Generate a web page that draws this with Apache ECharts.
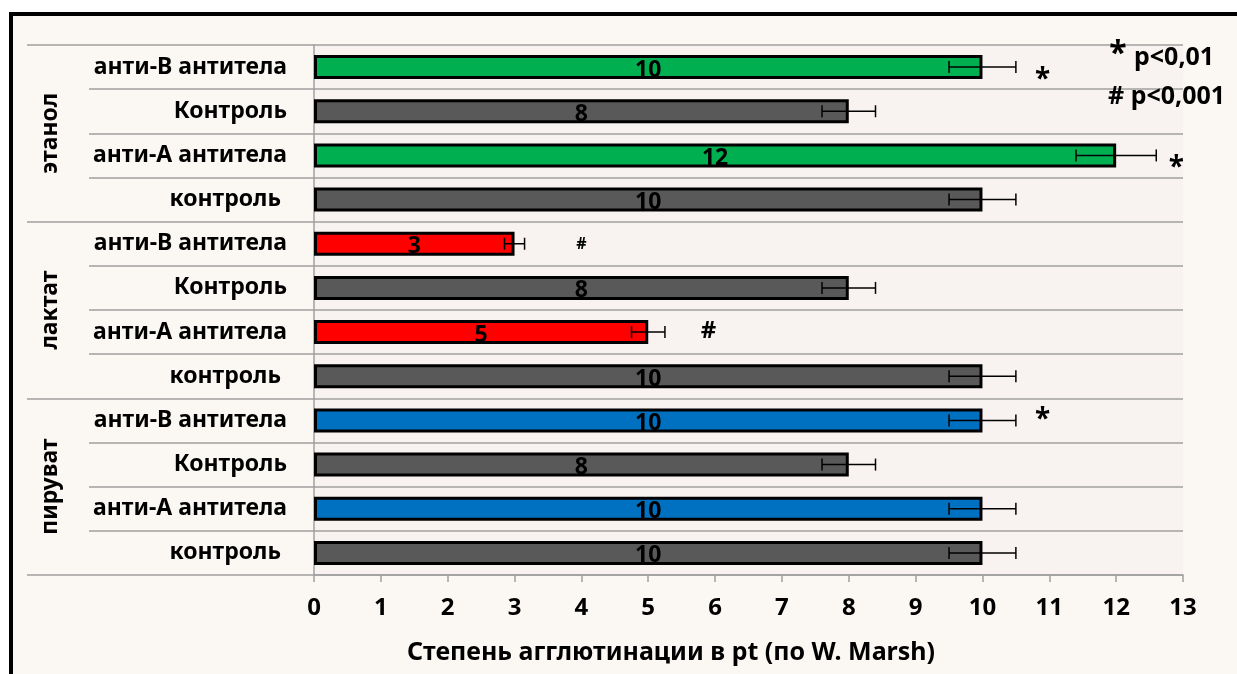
<!DOCTYPE html>
<html>
<head>
<meta charset="utf-8">
<script src="https://cdn.jsdelivr.net/npm/echarts@6/dist/echarts.min.js"></script>
<style>html,body{margin:0;padding:0;background:#fff;}#c{width:1237px;height:674px;}</style>
</head>
<body>
<div id="c"></div>
<script>
// ---- data ----
const categories = ['анти-В антитела','Контроль','анти-А антитела','контроль ',
                    'анти-В антитела','Контроль','анти-А антитела','контроль ',
                    'анти-В антитела','Контроль','анти-А антитела','контроль '];
const groups = ['этанол','лактат','пируват'];
const values = [10, 8, 12, 10, 3, 8, 5, 10, 10, 8, 10, 10];
const errors = [0.5, 0.4, 0.6, 0.5, 0.15, 0.4, 0.25, 0.5, 0.5, 0.4, 0.5, 0.5];
const barColors = ['#00b050','#595959','#00b050','#595959','#ff0000','#595959','#ff0000','#595959','#0070c0','#595959','#0070c0','#595959'];
const marks = ['*','','*','','#','','#','','*','','',''];
const markX = [10.9, 0, 12.9, 0, 4.0, 0, 5.9, 0, 10.9, 0, 0, 0];
const xTicks = [0,1,2,3,4,5,6,7,8,9,10,11,12,13];
const xTitle = 'Степень агглютинации в pt (по W. Marsh)';
const legendLines = [['*','p<0,01'],['#','p<0,001']];

const FONT = '"Noto Sans", sans-serif';
const GRAY = '#a0a0a0';
// styling of the significance marks (font size, vertical nudge in px)
const markFont = [28, 0, 28, 0, 16, 0, 24, 0, 28, 0, 0, 0];
const markDy = [13, 0, 13, 0, 1, 0, -1, 0, 0, 0, 0, 0];

const chart = echarts.init(document.getElementById('c'));
const option = {
  backgroundColor: '#ffffff',
  animation: false,
  textStyle: { fontFamily: FONT },
  grid: { left: 314, right: 54, top: 45, bottom: 99, show: true, backgroundColor: '#f8f3f0', borderWidth: 0 },
  xAxis: {
    type: 'value', min: 0, max: 13, interval: 1,
    axisLine: { show: true, lineStyle: { color: GRAY, width: 1.5 } },
    axisTick: { show: true, length: 7, lineStyle: { color: GRAY, width: 1.5 } },
    splitLine: { show: false },
    axisLabel: { margin: 21, color: '#000', fontWeight: 'bold', fontSize: 24, fontFamily: FONT,
      formatter: v => xTicks.includes(v) ? String(v) : '' }
  },
  yAxis: [{
    type: 'category', data: categories, inverse: true, position: 'left',
    axisLine: { show: true, lineStyle: { color: GRAY, width: 1.5 } },
    axisTick: { show: true, length: 225, lineStyle: { color: GRAY, width: 1.5 } },
    splitLine: { show: true, lineStyle: { color: GRAY, width: 1.5 } },
    axisLabel: { margin: 27, color: '#000', fontWeight: 'bold', fontSize: 23, fontFamily: FONT }
  }, {
    type: 'category', data: groups, inverse: true, position: 'left',
    axisLine: { show: false },
    axisTick: { show: true, length: 287, lineStyle: { color: GRAY, width: 1.5 } },
    splitLine: { show: false },
    axisLabel: { margin: 252, rotate: 90, color: '#000', fontWeight: 'bold', fontSize: 23, fontFamily: FONT }
  }],
  graphic: [
    { type: 'rect', z: -10, shape: { x: 11, y: 14, width: 1300, height: 720 },
      style: { fill: '#fbf7f2', stroke: '#000', lineWidth: 4 } },
    { type: 'text', x: 671, y: 653, z: 10,
      style: { text: xTitle, textAlign: 'center', textVerticalAlign: 'middle', fill: '#000',
               font: 'bold 25px ' + FONT } },
    { type: 'text', x: 1118, y: 55, z: 10,
      style: { text: legendLines[0][0], textAlign: 'center', textVerticalAlign: 'middle', fill: '#000', font: 'bold 32px ' + FONT } },
    { type: 'text', x: 1134, y: 58, z: 10,
      style: { text: legendLines[0][1], textAlign: 'left', textVerticalAlign: 'middle', fill: '#000', font: 'bold 25px ' + FONT } },
    { type: 'text', x: 1108, y: 97, z: 10,
      style: { text: legendLines[1][0] + ' ' + legendLines[1][1], textAlign: 'left', textVerticalAlign: 'middle', fill: '#000', font: 'bold 25px ' + FONT } }
  ],
  series: [{
    type: 'bar', yAxisIndex: 0, barWidth: 24,
    data: values.map((v, i) => ({ value: v, itemStyle: { color: barColors[i] } })),
    itemStyle: { borderColor: '#000', borderWidth: 3 },
    label: { show: true, position: 'inside', offset: [0, 3], color: '#000', fontWeight: 'bold', fontSize: 23, fontFamily: FONT }
  }, {
    type: 'custom', yAxisIndex: 0, z: 5,
    data: values.map((v, i) => [v - errors[i], v + errors[i], i]),
    renderItem: function (params, api) {
      const lo = api.coord([api.value(0), api.value(2)]);
      const hi = api.coord([api.value(1), api.value(2)]);
      const h = 6;
      const st = { stroke: '#000', lineWidth: 1.5 };
      return { type: 'group', children: [
        { type: 'line', shape: { x1: lo[0], y1: lo[1], x2: hi[0], y2: hi[1] }, style: st },
        { type: 'line', shape: { x1: lo[0], y1: lo[1] - h, x2: lo[0], y2: lo[1] + h }, style: st },
        { type: 'line', shape: { x1: hi[0], y1: hi[1] - h, x2: hi[0], y2: hi[1] + h }, style: st }
      ]};
    }
  }, {
    type: 'custom', yAxisIndex: 0, z: 6,
    data: marks.map((m, i) => [markX[i], i]),
    renderItem: function (params, api) {
      const i = params.dataIndex;
      if (!marks[i]) return null;
      const p = api.coord([api.value(0), api.value(1)]);
      return { type: 'text', x: p[0], y: p[1] + markDy[i],
        style: { text: marks[i], textAlign: 'center', textVerticalAlign: 'middle', fill: '#000',
                 font: 'bold ' + markFont[i] + 'px ' + FONT } };
    }
  }]
};
chart.setOption(option);
</script>
</body>
</html>
